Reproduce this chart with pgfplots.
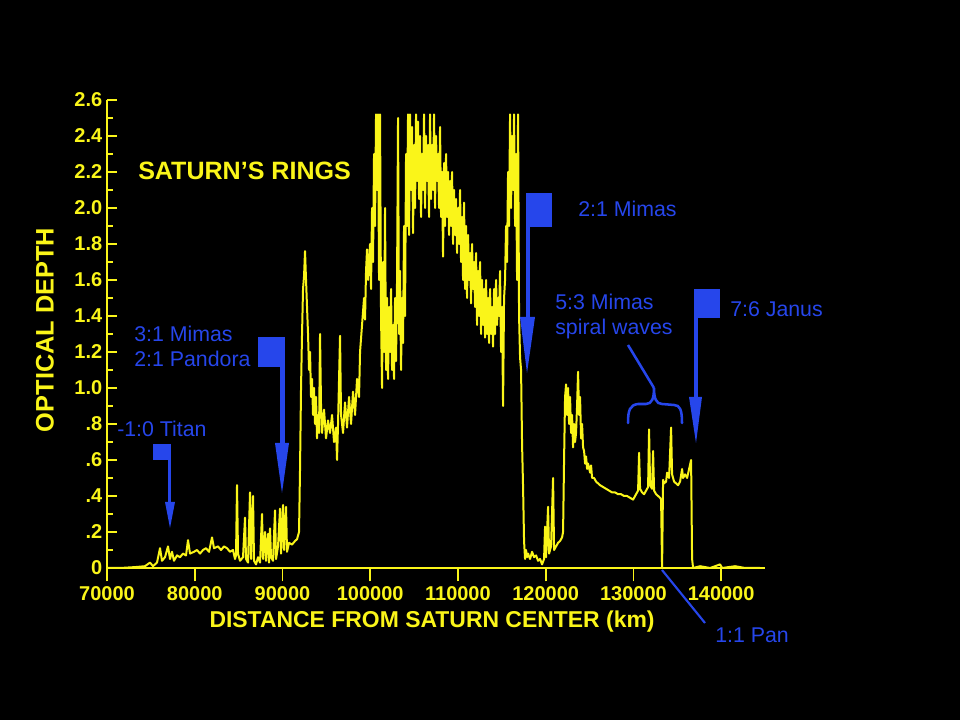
\documentclass[border=0pt]{standalone}
\usepackage{pgfplots}
\pgfplotsset{compat=1.18}
\usepackage{fontspec}
\setmainfont{Liberation Sans}
\definecolor{ylw}{RGB}{250,245,25}
\definecolor{blu}{RGB}{38,70,235}
\begin{document}
\begin{tikzpicture}
\useasboundingbox (0,0) rectangle (720pt,540pt);
\fill[black] (0,0) rectangle (720pt,540pt);
\begin{axis}[
  at={(80.25pt,114pt)}, anchor=south west,
  scale only axis, width=493.5pt, height=351pt,
  xmin=70000, xmax=145000, ymin=0, ymax=2.6,
  axis x line*=bottom, axis y line*=left,
  axis line style={ylw, line width=1.5pt, -},
  tick align=inside,
  major tick length=7.5pt, minor tick length=4.5pt,
  tick style={ylw, line width=1.3pt},
  xtick=\empty,
  minor xtick={70000,71000,...,145000},
  extra x ticks={70000,80000,90000,100000,110000,120000,130000,140000},
  extra x tick labels={70000,80000,90000,100000,110000,120000,130000,140000},
  extra x tick style={grid=none, tick align=outside, major tick length=10pt},
  ytick={0,0.2,0.4,0.6,0.8,1.0,1.2,1.4,1.6,1.8,2.0,2.2,2.4,2.6},
  yticklabels={0,.2,.4,.6,.8,1.0,1.2,1.4,1.6,1.8,2.0,2.2,2.4,2.6},
  minor y tick num=1,
  x tick label style={font=\bfseries\fontsize{15}{18}\selectfont, text=ylw},
  y tick label style={font=\bfseries\fontsize{15}{18}\selectfont, text=ylw},
  xlabel={DISTANCE FROM SATURN CENTER (km)},
  ylabel={OPTICAL DEPTH},
  xlabel style={at={(axis description cs:0.494,0)}, anchor=center, yshift=-40.5pt,
    font=\bfseries\fontsize{17.2}{20}\selectfont, text=ylw},
  ylabel style={at={(axis description cs:-0.0942,0.5085)}, anchor=center,
    font=\bfseries\fontsize{19}{22}\selectfont, text=ylw},
  clip=false,
]
\addplot[ylw, line width=1.5pt, line join=round] table {
x y
70000 0.00
71482 0.00
73192 0.005
74332 0.01
74902 0.03
75244 0.01
75700 0.03
76042 0.11
76270 0.04
76612 0.06
76954 0.12
77182 0.05
77410 0.09
77638 0.04
77980 0.07
78322 0.06
78664 0.08
79006 0.07
79234 0.155
79462 0.08
79918 0.09
80260 0.10
80602 0.08
80944 0.10
81286 0.11
81628 0.09
81970 0.17
82198 0.11
82654 0.12
82996 0.10
83338 0.12
83680 0.11
84022 0.09
84364 0.10
84592 0.05
84706 0.07
84820 0.46
84934 0.08
85162 0.04
85504 0.06
85732 0.28
85846 0.05
86074 0.03
86302 0.42
86416 0.05
86644 0.40
86758 0.04
86986 0.02
87214 0.06
87442 0.03
87670 0.30
87784 0.05
88012 0.20
88126 0.04
88354 0.19
88468 0.03
88582 0.22
88696 0.06
88924 0.04
89152 0.32
89266 0.05
89494 0.12
89722 0.33
89836 0.08
90064 0.35
90178 0.10
90406 0.34
90520 0.09
90748 0.14
91090 0.13
91432 0.15
91660 0.16
91888 0.20
92002 0.55
92116 1.00
92230 1.30
92344 1.55
92458 1.62
92572 1.76
92686 1.60
92800 1.45
92914 1.30
93028 1.10
93142 1.20
93256 0.95
93370 1.05
93484 0.85
93598 1.00
93712 0.80
93826 0.95
93940 0.72
94054 0.85
94168 0.75
94282 1.30
94396 0.90
94510 0.75
94738 0.88
94966 0.72
95194 0.82
95422 0.75
95650 0.85
95878 0.70
96106 0.78
96220 0.60
96334 0.80
96562 1.29
96676 0.85
96904 0.75
97132 0.92
97360 0.78
97588 0.95
97816 0.80
98044 0.98
98272 0.85
98500 1.05
98728 0.95
98842 1.20
99070 1.35
99298 1.50
99412 1.38
99526 1.65
99640 1.77
99754 1.60
99982 1.80
100096 1.55
100210 2.00
100324 1.70
100438 2.30
100552 1.90
100666 2.52
100780 2.10
100894 2.52
101008 1.60
101122 2.52
101236 1.40
101350 1.00
101464 1.70
101578 1.20
101692 2.00
101806 1.10
101920 1.50
102034 1.05
102148 1.45
102262 1.20
102376 1.55
102490 1.10
102604 1.35
102718 1.05
102832 1.50
102946 1.15
103060 1.60
103174 2.50
103288 1.30
103402 1.65
103516 1.10
103630 1.50
103744 1.25
103858 1.90
103972 1.40
104086 2.30
104200 1.90
104314 2.52
104428 1.85
104542 2.52
104656 2.10
104770 2.45
104884 1.86
104998 2.35
105112 2.00
105226 2.52
105340 2.15
105454 2.48
105568 2.05
105682 2.40
105796 1.95
105910 2.30
106024 2.10
106138 2.52
106252 2.00
106366 2.40
106480 2.15
106594 2.35
106708 1.95
106822 2.52
106936 2.05
107050 2.35
107164 2.10
107278 2.52
107392 2.00
107506 2.40
107620 2.15
107734 2.30
107848 2.00
107962 2.45
108076 1.95
108190 2.20
108304 1.73
108418 2.25
108532 1.90
108646 2.30
108760 1.95
108874 2.20
108988 1.85
109102 2.15
109216 1.90
109330 2.20
109444 1.80
109558 2.10
109672 1.85
109786 2.05
109900 1.75
110014 2.00
110128 1.80
110242 2.10
110356 1.70
110470 1.95
110584 1.60
110698 2.03
110812 1.55
110926 1.90
111040 1.50
111154 1.85
111268 1.60
111382 1.75
111496 1.47
111610 1.80
111724 1.55
111838 1.70
111952 1.45
112066 1.75
112180 1.35
112294 1.65
112408 1.40
112522 1.70
112636 1.30
112750 1.60
112864 1.35
112978 1.55
113092 1.28
113206 1.60
113320 1.30
113434 1.50
113548 1.25
113662 1.55
113776 1.30
113890 1.45
114004 1.23
114118 1.55
114232 1.30
114346 1.60
114460 1.35
114574 1.50
114688 1.40
114802 1.65
114916 1.20
115030 1.45
115144 0.90
115258 1.50
115372 1.60
115486 1.90
115600 1.70
115714 2.20
115828 1.90
115942 2.52
116056 2.00
116170 2.40
116284 2.10
116398 2.52
116512 1.90
116626 2.30
116740 1.60
116854 2.52
116968 1.40
117082 1.17
117196 1.10
117310 0.69
117424 0.45
117538 0.15
117652 0.05
117766 0.10
117880 0.06
117994 0.08
118222 0.05
118450 0.09
118678 0.06
118906 0.07
119134 0.04
119362 0.05
119590 0.02
119818 0.05
119932 0.23
120046 0.06
120274 0.34
120388 0.08
120616 0.12
120844 0.50
120958 0.10
121186 0.12
121414 0.14
121642 0.15
121870 0.17
121984 0.20
122098 0.60
122212 0.95
122326 1.02
122440 0.85
122554 1.00
122668 0.80
122782 0.95
122896 0.75
123010 0.85
123124 0.67
123238 0.80
123352 0.70
123466 0.75
123580 0.90
123694 1.09
123808 0.85
123922 0.95
124036 0.72
124150 0.80
124264 0.67
124378 0.65
124492 0.58
124606 0.62
124720 0.55
124834 0.58
125062 0.53
125176 0.57
125290 0.50
125518 0.50
125746 0.48
125974 0.47
126202 0.46
126544 0.45
126886 0.44
127228 0.43
127570 0.42
127912 0.42
128254 0.41
128596 0.41
128938 0.40
129280 0.40
129622 0.39
129964 0.38
130306 0.41
130534 0.43
130648 0.64
130762 0.44
130990 0.42
131218 0.41
131446 0.43
131674 0.45
131788 0.77
131902 0.46
132130 0.44
132244 0.65
132358 0.43
132586 0.41
132814 0.40
133042 0.39
133156 0.38
133270 0.00
133384 0.49
133498 0.47
133726 0.48
133840 0.53
134068 0.50
134296 0.78
134410 0.52
134638 0.48
134866 0.47
135094 0.46
135322 0.48
135550 0.55
135664 0.50
135892 0.52
136120 0.50
136348 0.55
136576 0.60
136690 0.05
136804 0.00
137602 0.01
138742 0.00
139882 0.02
140110 0.00
141592 0.01
142732 0.00
144442 0.00
};
\end{axis}
\begin{scope}[x=0.75pt, y=-0.75pt, yshift=540pt]
  % title
  \node[anchor=base west, inner sep=0, text=ylw, font=\bfseries\fontsize{18.8}{22}\selectfont] at (138,180) {SATURN'S RINGS};
  % Titan
  \node[anchor=base west, inner sep=0, text=blu, font=\fontsize{16}{19}\selectfont] at (117,437) {-1:0 Titan};
  \fill[blu] (153,444) rectangle (171,460);
  \fill[blu] (168,444) rectangle (171,505);
  \fill[blu] (165,502) -- (175,502) -- (170,528) -- cycle;
  % Mimas 3:1 / Pandora 2:1
  \node[anchor=base west, inner sep=0, text=blu, font=\fontsize{16}{19}\selectfont] at (134,342) {3:1 Mimas};
  \node[anchor=base west, inner sep=0, text=blu, font=\fontsize{16}{19}\selectfont] at (134,367) {2:1 Pandora};
  \fill[blu] (258,337) rectangle (285,367);
  \fill[blu] (280,367) rectangle (285,446);
  \fill[blu] (275,443) -- (289,443) -- (282,493) -- cycle;
  % Mimas 2:1
  \node[anchor=base west, inner sep=0, text=blu, font=\fontsize{16}{19}\selectfont] at (578,217) {2:1 Mimas};
  \fill[blu] (526,193) rectangle (552,227);
  \fill[blu] (526,227) rectangle (530,320);
  \fill[blu] (520,317) -- (535,317) -- (527,373) -- cycle;
  % Mimas 5:3 spiral waves
  \node[anchor=base west, inner sep=0, text=blu, font=\fontsize{16}{19}\selectfont] at (555,310) {5:3 Mimas};
  \node[anchor=base west, inner sep=0, text=blu, font=\fontsize{16}{19}\selectfont] at (555,335) {spiral waves};
  \draw[blu, line width=1.9pt] (628,345) -- (654,388);
  \draw[blu, line width=1.9pt, line cap=round]
    (628,423) .. controls (628,410) and (630,405) .. (638,404) -- (646,404)
    .. controls (652,404) and (654,398) .. (654,388)
    .. controls (654,398) and (656,404) .. (662,404) -- (674,405)
    .. controls (680,405) and (682,410) .. (682,423);
  % Janus 7:6
  \node[anchor=base west, inner sep=0, text=blu, font=\fontsize{16}{19}\selectfont] at (730,317) {7:6 Janus};
  \fill[blu] (694,289) rectangle (720,318);
  \fill[blu] (694,318) rectangle (698,400);
  \fill[blu] (689,397) -- (702,397) -- (696,443) -- cycle;
  % Pan 1:1
  \draw[blu, line width=1.6pt] (662,570) -- (705,623);
  \node[anchor=base west, inner sep=0, text=blu, font=\fontsize{16}{19}\selectfont] at (715,643) {1:1 Pan};
\end{scope}
\end{tikzpicture}
\end{document}
